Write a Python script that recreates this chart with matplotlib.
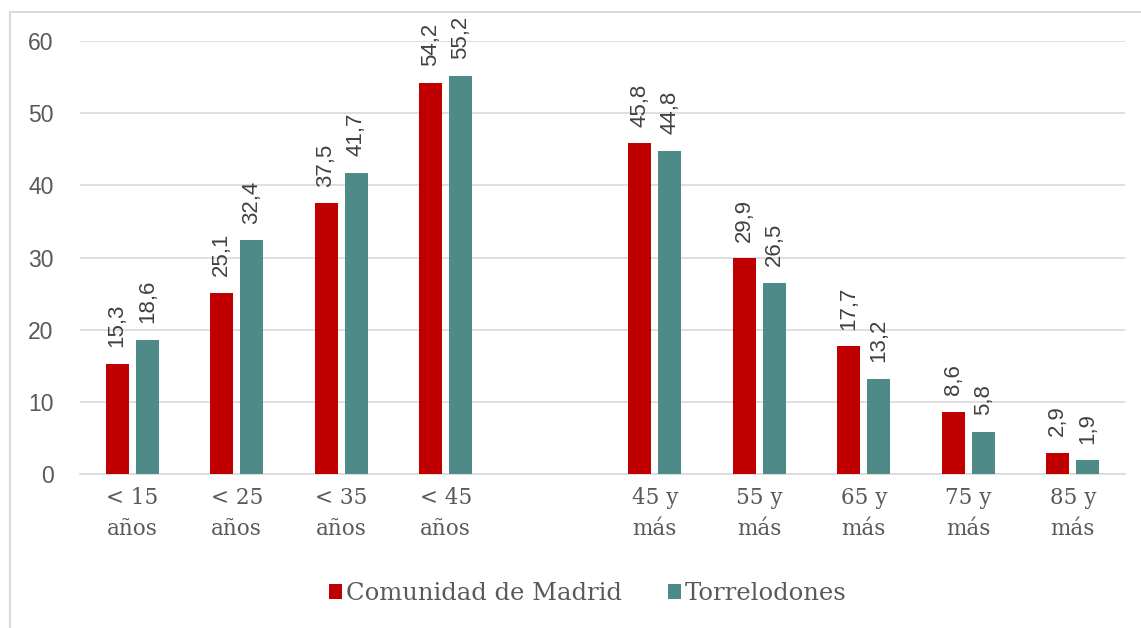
import matplotlib
matplotlib.use("Agg")
import matplotlib.pyplot as plt
import numpy as np
from matplotlib.patches import Rectangle

categories = ["< 15\naños", "< 25\naños", "< 35\naños", "< 45\naños", "",
              "45 y\nmás", "55 y\nmás", "65 y\nmás", "75 y\nmás", "85 y\nmás"]
madrid = [15.3, 25.1, 37.5, 54.2, np.nan, 45.8, 29.9, 17.7, 8.6, 2.9]
torrelodones = [18.6, 32.4, 41.7, 55.2, np.nan, 44.8, 26.5, 13.2, 5.8, 1.9]
series_names = ["Comunidad de Madrid", "Torrelodones"]
yticks = [0, 10, 20, 30, 40, 50, 60]

RED = "#C00000"
TEAL = "#4E8A87"
GRID = "#D9D9D9"
TXT = "#595959"

fig = plt.figure(figsize=(11.41, 6.28), dpi=100)
ax = fig.add_axes([0.0701, 0.2452, 0.9159, 0.6895])

x = np.arange(len(categories))
w = 0.22
off = 0.145
b1 = ax.bar(x - off, madrid, w, color=RED, label=series_names[0], zorder=3)
b2 = ax.bar(x + off, torrelodones, w, color=TEAL, label=series_names[1], zorder=3)

for bars, vals in ((b1, madrid), (b2, torrelodones)):
    for rect, v in zip(bars, vals):
        if np.isnan(v):
            continue
        ax.annotate(f"{v:.1f}".replace(".", ","),
                    (rect.get_x() + rect.get_width() / 2, v),
                    xytext=(0, 12), textcoords="offset points",
                    rotation=90, ha="center", va="bottom",
                    fontsize=16, color="#404040", family="Liberation Sans",
                    zorder=4)

ax.set_xlim(-0.5, len(categories) - 0.5)
ax.set_ylim(0, 60)
ax.set_yticks(yticks)
ax.set_yticklabels([str(t) for t in yticks], fontsize=16.5, color=TXT,
                   family="Liberation Sans")
ax.set_xticks(x)
ax.set_xticklabels(categories, fontsize=15.5, color=TXT, family="DejaVu Serif",
                   linespacing=1.55)
ax.tick_params(axis="both", length=0)
ax.tick_params(axis="y", pad=19)
ax.tick_params(axis="x", pad=9)
ax.grid(axis="y", color=GRID, linewidth=1.2, zorder=0)
for s in ["top", "right", "left"]:
    ax.spines[s].set_visible(False)
ax.spines["bottom"].set_color(GRID)
ax.spines["bottom"].set_linewidth(1.2)

leg = fig.legend(handles=[b1, b2], labels=series_names, loc="center",
                 bbox_to_anchor=(0.515, 0.055), ncol=2, frameon=False,
                 prop={"family": "DejaVu Serif", "size": 17.5},
                 handlelength=0.55, handleheight=0.55, handletextpad=0.15,
                 columnspacing=1.9)
for t in leg.get_texts():
    t.set_color(TXT)

fig.patches.append(Rectangle((10 / 1141, -0.01), 1.0, 1 - 12 / 628 + 0.01,
                             transform=fig.transFigure, fill=False,
                             edgecolor=GRID, linewidth=1.5))

fig.savefig("out.png", dpi=100)
